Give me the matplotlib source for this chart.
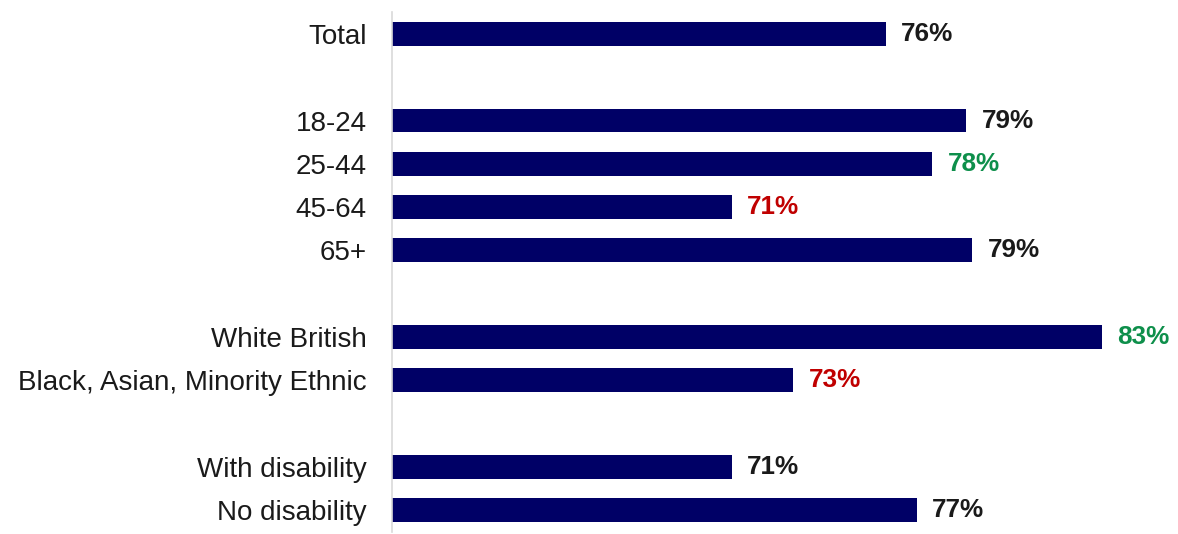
import matplotlib
matplotlib.use("Agg")
import matplotlib.pyplot as plt

plt.rcParams['font.family'] = ['Liberation Sans', 'DejaVu Sans']

# rows top to bottom; None marks the blank spacer rows between groups
categories = ["Total", None, "18-24", "25-44", "45-64", "65+", None,
              "White British", "Black, Asian, Minority Ethnic", None,
              "With disability", "No disability"]
values = [76.0, None, 78.6, 77.5, 71.0, 78.8, None, 83.0, 73.0, None, 71.0, 77.0]
labels = ["76%", None, "79%", "78%", "71%", "79%", None, "83%", "73%", None, "71%", "77%"]
label_colors = ["#1a1a1a", None, "#1a1a1a", "#0e8f4b", "#c00000", "#1a1a1a", None,
                "#0e8f4b", "#c00000", None, "#1a1a1a", "#1a1a1a"]

BAR_COLOR = "#000066"
X_MIN = 60

fig = plt.figure(figsize=(11.78, 5.34), dpi=100)
ax = fig.add_axes([392 / 1178, 1 - 531.6 / 534, (1110 - 392) / 1178, (531.6 - 12.4) / 534])

rows = [i for i, v in enumerate(values) if v is not None]
vals = [values[i] for i in rows]
ax.barh(rows, [v - X_MIN for v in vals], left=X_MIN, height=0.55, color=BAR_COLOR)

for i in rows:
    ax.text(values[i] + 0.5, i, labels[i], va='center', ha='left',
            fontsize=18.8, fontweight='bold', color=label_colors[i])

ax.set_xlim(X_MIN, 83.26)
ax.set_ylim(len(categories) - 0.5, -0.5)
ax.set_yticks(rows)
ax.set_yticklabels([categories[i] for i in rows], fontsize=20, color="#1a1a1a")
ax.tick_params(axis='y', length=0, pad=18)
ax.set_xticks([])

for side in ['top', 'right', 'bottom']:
    ax.spines[side].set_visible(False)
ax.spines['left'].set_color("#d9d9d9")
ax.spines['left'].set_linewidth(1.2)

fig.savefig("out.png", dpi=100)
